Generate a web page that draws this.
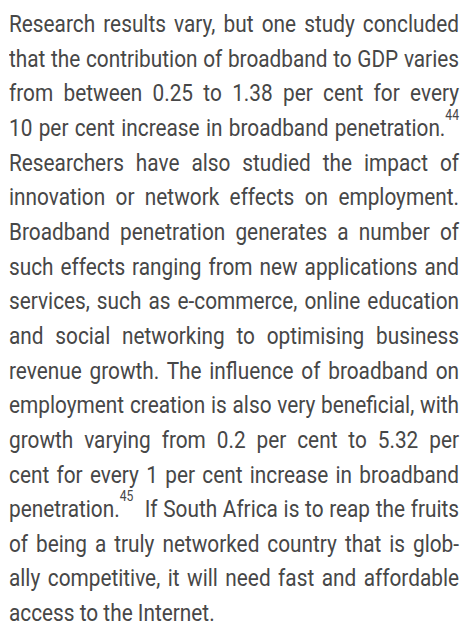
<!DOCTYPE html>
<html>
<head>
<meta charset="utf-8">
<script src="https://cdn.jsdelivr.net/npm/chart.js@4/dist/chart.umd.min.js"></script>
<style>
html,body{margin:0;padding:0;background:#fff;width:462px;height:621px;overflow:hidden;}
#txt{position:absolute;left:9px;top:0;transform-origin:0 0;font-family:Roboto,"Liberation Sans",sans-serif;font-size:24px;color:#474747;}
.ln{position:absolute;left:0;white-space:nowrap;text-align:justify;text-align-last:justify;line-height:1;}
.ln.last{text-align:left;text-align-last:left;}
.meas{position:absolute;visibility:hidden;white-space:nowrap;font-family:Roboto,"Liberation Sans",sans-serif;font-size:24px;}
sup{font-size:14px;vertical-align:baseline;position:relative;top:-16px;line-height:0;}
</style>
</head>
<body>
<div id="txt"></div>
<script>
const lines = [
 "Research results vary, but one study concluded",
 "that the contribution of broadband to GDP varies",
 "from between 0.25 to 1.38 per cent for every",
 "10 per cent increase in broadband penetration.^44",
 "Researchers have also studied the impact of",
 "innovation or network effects on employment.",
 "Broadband penetration generates a number of",
 "such effects ranging from new applications and",
 "services, such as e-commerce, online education",
 "and social networking to optimising business",
 "revenue growth. The influence of broadband on",
 "employment creation is also very beneficial, with",
 "growth varying from 0.2 per cent to 5.32 per",
 "cent for every 1 per cent increase in broadband",
 "penetration.^45  If South Africa is to reap the fruits",
 "of being a truly networked country that is glob-",
 "ally competitive, it will need fast and affordable",
 "access to the Internet."
];
const boxWidth = 450;
const firstBaseline = 32.3;
const lineStep = 34.65;
const fontSize = 24;
const host = document.getElementById('txt');

function fill(el, t) {
  const parts = t.split('^');
  el.appendChild(document.createTextNode(parts[0]));
  if (parts[1]) {
    const m = parts[1].match(/^(\d+)(.*)$/);
    const s = document.createElement('sup');
    s.textContent = m[1];
    el.appendChild(s);
    if (m[2]) el.appendChild(document.createTextNode(m[2].replace(/  /g, '\u00a0 ')));
  }
}
let maxW = 0;
lines.forEach(t => {
  const s = document.createElement('span');
  s.className = 'meas';
  fill(s, t);
  document.body.appendChild(s);
  maxW = Math.max(maxW, s.getBoundingClientRect().width);
  s.remove();
});
const scale = boxWidth / (maxW + 4);
const innerW = boxWidth / scale;
host.style.transform = 'scaleX(' + scale + ')';
host.style.width = innerW + 'px';
lines.forEach((t, i) => {
  const d = document.createElement('div');
  d.className = 'ln' + (i === lines.length - 1 ? ' last' : '');
  d.style.width = innerW + 'px';
  fill(d, t);
  d.style.top = (firstBaseline + i * lineStep - fontSize * 0.842) + 'px';
  host.appendChild(d);
});
</script>
</body>
</html>
